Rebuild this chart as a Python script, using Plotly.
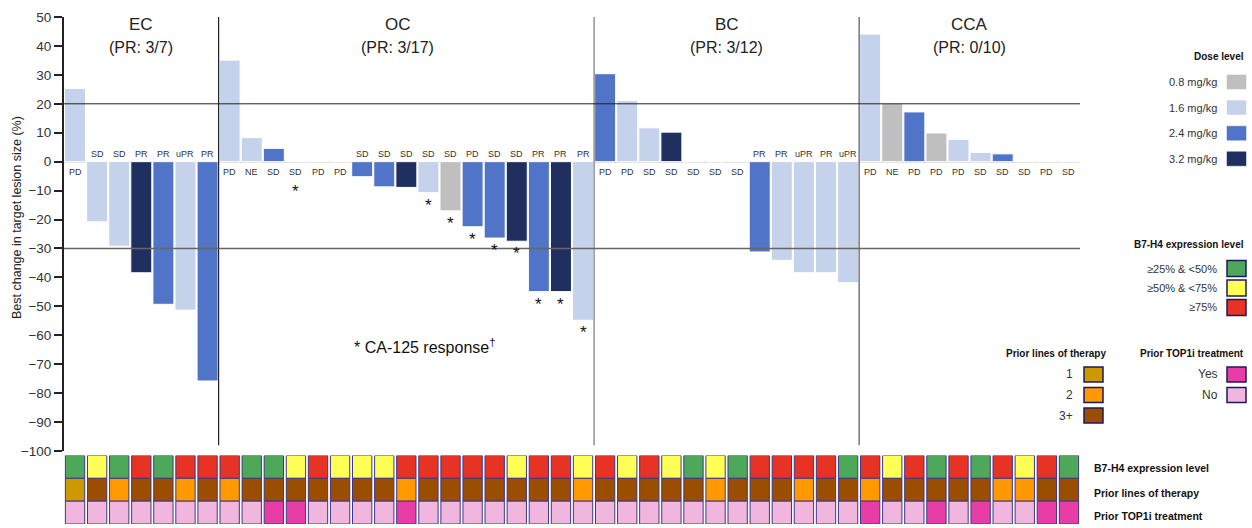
import plotly.graph_objects as go

# ---- data -------------------------------------------------------------
tumor_types = ["EC", "OC", "BC", "CCA"]
group_sizes = [7, 17, 12, 10]
pr_counts = ["PR: 3/7", "PR: 3/17", "PR: 3/12", "PR: 0/10"]

best_change = [
    25.3, -20.8, -29.2, -38.4, -49.3, -51.3, -75.8,
    35.1, 8.3, 4.6, 0, 0, 0, -5.2, -8.7, -8.9, -10.7, -17.0, -22.5, -26.4, -27.5, -44.9, -44.9, -54.8,
    30.4, 21.1, 11.7, 10.2, 0, 0, 0, -31.2, -34.1, -38.4, -38.4, -41.8,
    44.1, 20.1, 17.2, 9.9, 7.7, 3.2, 2.7, 0, 0, 0,
]
response = [
    "PD", "SD", "SD", "PR", "PR", "uPR", "PR",
    "PD", "NE", "SD", "SD", "PD", "PD", "SD", "SD", "SD", "SD", "SD", "PD", "SD", "SD", "PR", "PR", "PR",
    "PD", "PD", "SD", "SD", "SD", "SD", "SD", "PR", "PR", "uPR", "PR", "uPR",
    "PD", "NE", "PD", "PD", "PD", "SD", "SD", "SD", "PD", "SD",
]
dose_mgkg = [
    1.6, 1.6, 1.6, 3.2, 2.4, 1.6, 2.4,
    1.6, 1.6, 2.4, None, None, None, 2.4, 2.4, 3.2, 1.6, 0.8, 2.4, 2.4, 3.2, 2.4, 3.2, 1.6,
    2.4, 1.6, 1.6, 3.2, None, None, None, 2.4, 1.6, 1.6, 1.6, 1.6,
    1.6, 0.8, 2.4, 0.8, 1.6, 1.6, 2.4, None, None, None,
]
ca125_response = [
    0, 0, 0, 0, 0, 0, 0,
    0, 0, 0, 1, 0, 0, 0, 0, 0, 1, 1, 1, 1, 1, 1, 1, 1,
    0, 0, 0, 0, 0, 0, 0, 0, 0, 0, 0, 0,
    0, 0, 0, 0, 0, 0, 0, 0, 0, 0,
]
b7h4_level = list("GYGRGRRRGGYRYYYRRRR" "RYRRYRYRYGYGRRRRGR" "YRGRGRYRG")
prior_lines = [
    "1", "3+", "2", "3+", "3+", "2", "3+", "2", "3+", "3+", "3+", "3+", "3+", "3+", "3+", "2", "3+", "3+", "3+",
    "3+", "3+", "3+", "3+", "2", "3+", "3+", "3+", "3+", "3+", "2", "3+", "3+", "3+", "2", "3+", "3+", "2",
    "3+", "3+", "3+", "3+", "3+", "2", "2", "3+", "3+",
]
prior_top1i = list("NNNNNNNNNYYNNNNYNNNNNNNNNNNNNNNNNNNNYNNYNYNNYY")

dose_levels = [0.8, 1.6, 2.4, 3.2]
dose_names = ["0.8 mg/kg", "1.6 mg/kg", "2.4 mg/kg", "3.2 mg/kg"]
b7h4_keys = ["G", "Y", "R"]
b7h4_names = ["≥25% & <50%", "≥50% & <75%", "≥75%"]
lines_keys = ["1", "2", "3+"]
top1i_keys = ["Y", "N"]
top1i_names = ["Yes", "No"]
row_names = ["B7-H4 expression level", "Prior lines of therapy", "Prior TOP1i treatment"]
y_ticks = list(range(-100, 51, 10))

# ---- styles -----------------------------------------------------------
DOSE_COL = {0.8: "#BFBFBF", 1.6: "#C5D2EC", 2.4: "#4F74C8", 3.2: "#1F3060", None: "#FFFFFF"}
B7H4_COL = {"G": "#4EA85A", "Y": "#FFFF55", "R": "#E63324"}
LINES_COL = {"1": "#CC9900", "2": "#FF9900", "3+": "#9B4D00"}
TOP1I_COL = {"Y": "#E83DA6", "N": "#F0B6DE"}
FONT = "Arial, Liberation Sans, sans-serif"
TXT = "#333333"
CELL_EDGE = "#3F3888"

n = len(best_change)
xs = list(range(n))

# pixel -> paper helpers (plot area spans x 64..1080, y 17..524)
L, R, T, B = 64, 1080, 17, 524


def px(xp):
    return (xp - L) / (R - L)


def py(yp):
    return (B - yp) / (B - T)


fig = go.Figure()

# waterfall bars
fig.add_trace(go.Bar(
    x=xs, y=best_change, width=0.95,
    marker=dict(color=[DOSE_COL[d] for d in dose_mgkg], line=dict(color="#FFFFFF", width=1)),
    xaxis="x", yaxis="y", showlegend=False, hoverinfo="x+y",
))

# patient characteristic strip (three stacked rows of cells)
rows = [
    ([B7H4_COL[v] for v in b7h4_level], 2),
    ([LINES_COL[v] for v in prior_lines], 1),
    ([TOP1I_COL[v] for v in prior_top1i], 0),
]
for colors, base in rows:
    fig.add_trace(go.Bar(
        x=xs, y=[1] * n, base=base, width=0.875,
        marker=dict(color=colors, line=dict(color=CELL_EDGE, width=1)),
        xaxis="x2", yaxis="y2", showlegend=False, hoverinfo="skip",
    ))

annotations = []
shapes = []


def note(text, x, y, size, color=TXT, xanchor="center", xref="paper", bold=False, **kw):
    annotations.append(dict(
        x=x, y=y, xref=xref, yref="paper", xanchor=xanchor, yanchor="middle",
        text=f"<b>{text}</b>" if bold else text, showarrow=False,
        font=dict(size=size, color=color, family=FONT), **kw))


# response labels and CA-125 markers
for i, (v, r, c) in enumerate(zip(best_change, response, ca125_response)):
    above = v < 0
    annotations.append(dict(
        x=i, y=0, xref="x", yref="y", text=r, showarrow=False,
        xanchor="center", yanchor="middle",
        yshift=7.5 if above else -10, font=dict(size=9, color=TXT, family=FONT),
    ))
    if c:
        annotations.append(dict(
            x=i, y=min(v, 0), xref="x", yref="y", text="*", showarrow=False,
            xanchor="center", yanchor="top", yshift=-1 if v < 0 else -18,
            font=dict(size=17, color="#111111", family=FONT),
        ))

# group titles and separators
start = 0
for k, (name, size, pr) in enumerate(zip(tumor_types, group_sizes, pr_counts)):
    centre = start + (size - 1) / 2
    if name == "OC":
        centre -= 0.4
    note(name, centre, py(25), 17, color="#222222", xref="x")
    note(f"({pr})", centre, py(48), 16, color="#222222", xref="x")
    if k > 0:
        sep_col = ["#222222", "#777777", "#555555"][k - 1]
        shapes.append(dict(type="line", xref="x", yref="y", x0=start - 0.5, x1=start - 0.5,
                           y0=-98, y1=50.5, line=dict(color=sep_col, width=1.2), layer="above"))
    start += size

# threshold lines at +20% and -30%
shapes.append(dict(type="line", xref="paper", yref="y", x0=0, x1=1, y0=20, y1=20,
                   line=dict(color="#222222", width=1), layer="above"))
shapes.append(dict(type="line", xref="paper", yref="y", x0=0, x1=1, y0=-30, y1=-30,
                   line=dict(color="#666666", width=1.5), layer="above"))

# axis title
note("Best change in target lesion size (%)", px(17), py(218), 12.5, color="#222222", textangle=-90)

# CA-125 footnote
note("* CA-125 response<sup>†</sup>", px(352), py(346), 16, color="#111111", xanchor="left")

# row labels beside the strip
for name, yc in zip(row_names, [467.5, 492.5, 516]):
    note(name, px(1092), py(yc), 10.5, color="#111111", xanchor="left", bold=True)


def legend_title(text, x_right, yc):
    note(text, px(x_right), py(yc), 10, color="#111111", xanchor="right", bold=True)


def legend_item(text, color, x_text, x0, yc, h, edge=None, size=11):
    note(text, px(x_text), py(yc), size, xanchor="right")
    shapes.append(dict(type="rect", xref="paper", yref="paper",
                       x0=px(x0), x1=px(x0 + 19), y0=py(yc + h / 2), y1=py(yc - h / 2),
                       fillcolor=color,
                       line=dict(color=edge if edge else color, width=1.5 if edge else 0.5)))


# dose legend
legend_title("Dose level", 1246, 57)
for j, (lvl, name) in enumerate(zip(dose_levels, dose_names)):
    legend_item(name, DOSE_COL[lvl], 1219, 1227, 82 + 25.6 * j, 14)

# B7-H4 legend
legend_title("B7-H4 expression level", 1246, 245)
for j, (key, name) in enumerate(zip(b7h4_keys, b7h4_names)):
    legend_item(name, B7H4_COL[key], 1219, 1227, 268.5 + 19.5 * j, 16, edge="#1C1A5E")

# prior lines legend
legend_title("Prior lines of therapy", 1108, 353)
for j, key in enumerate(lines_keys):
    legend_item(key, LINES_COL[key], 1075, 1084, 374.5 + 20.5 * j, 15, edge="#1C1A5E", size=12)

# prior TOP1i legend
legend_title("Prior TOP1i treatment", 1246, 353)
for j, (key, name) in enumerate(zip(top1i_keys, top1i_names)):
    legend_item(name, TOP1I_COL[key], 1220, 1227, 374.5 + 20.5 * j, 15, edge="#1C1A5E", size=12)

fig.update_layout(
    width=1252, height=528,
    margin=dict(l=L, r=1252 - R, t=T, b=528 - B, pad=0, autoexpand=False),
    paper_bgcolor="white", plot_bgcolor="white",
    barmode="overlay",
    showlegend=False,
    font=dict(family=FONT, color=TXT),
    xaxis=dict(range=[-0.5, n - 0.5], visible=False, domain=[0, 1], automargin=False),
    xaxis2=dict(range=[-0.5, n - 0.5], visible=False, anchor="y2", matches="x", automargin=False),
    yaxis=dict(
        domain=[py(451), 1], range=[-100, 50], tickvals=y_ticks, automargin=False,
        showline=True, linecolor="#222222", linewidth=2,
        ticks="outside", ticklen=8, tickwidth=2, tickcolor="#222222",
        tickfont=dict(size=13.5, color="#333333", family=FONT),
        showgrid=False, zeroline=True, zerolinecolor="#DDDDDD", zerolinewidth=2,
    ),
    yaxis2=dict(domain=[0, py(455.5)], range=[0, 3], visible=False, anchor="x2", automargin=False),
    annotations=annotations,
    shapes=shapes,
)

fig.write_html("out.html")
